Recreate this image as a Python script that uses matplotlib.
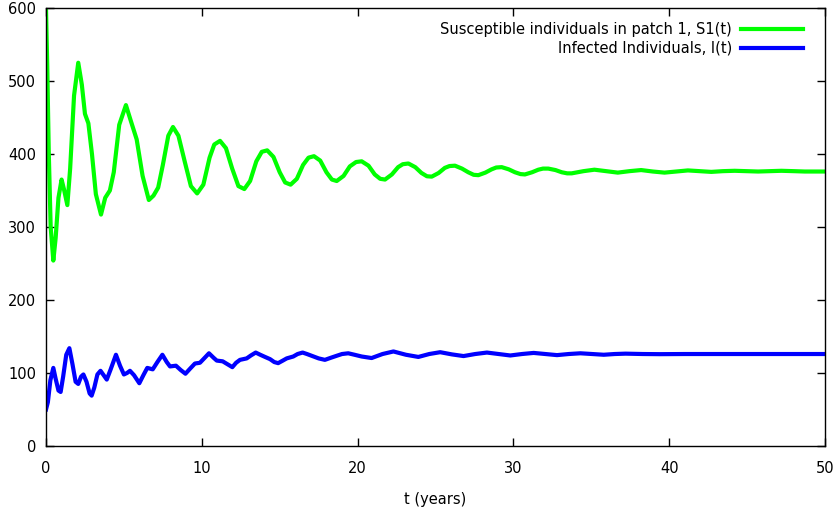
import numpy as np
import matplotlib
matplotlib.use("Agg")
import matplotlib.pyplot as plt

# Susceptible individuals in patch 1, S1(t)
s1_t = [0.0, 0.08, 0.18, 0.3, 0.47, 0.62, 0.8, 1.0, 1.15, 1.37, 1.55, 1.8, 2.07, 2.3, 2.5,
        2.72, 2.95, 3.2, 3.53, 3.8, 4.1, 4.35, 4.7, 5.13, 5.45, 5.82, 6.2, 6.6, 6.9, 7.2,
        7.5, 7.85, 8.15, 8.5, 8.9, 9.3, 9.7, 10.1, 10.5, 10.8, 11.17, 11.55, 11.95, 12.35,
        12.73, 13.1, 13.5, 13.85, 14.2, 14.6, 15.0, 15.35, 15.7, 16.1, 16.5, 16.85, 17.2,
        17.6, 18.0, 18.35, 18.66, 19.1, 19.5, 19.9, 20.26, 20.7, 21.1, 21.45, 21.76, 22.2,
        22.6, 22.9, 23.26, 23.7, 24.1, 24.45, 24.76, 25.2, 25.6, 25.9, 26.25, 26.7, 27.1,
        27.45, 27.75, 28.2, 28.6, 28.9, 29.25, 29.7, 30.1, 30.45, 30.74, 31.2, 31.6, 31.9,
        32.24, 32.7, 33.1, 33.45, 33.74, 34.5, 35.2, 35.95, 36.7, 37.45, 38.2, 38.95, 39.7,
        40.45, 41.2, 41.95, 42.7, 43.45, 44.2, 44.95, 45.7, 46.45, 47.2, 48.0, 48.7, 50.0]
s1_val = [600, 520, 400, 300, 254, 285, 340, 365, 352, 330, 380, 480, 525, 495, 455,
          442, 400, 345, 317, 340, 350, 375, 440, 467, 445, 420, 370, 337, 343, 354,
          385, 425, 437, 425, 390, 356, 346, 358, 395, 413, 418, 408, 380, 356,
          352, 363, 390, 403, 405, 396, 375, 361, 358, 366, 385, 395, 397,
          391, 375, 365, 363, 370, 383, 389, 390, 384, 372, 366, 365, 372,
          382, 386, 387, 382, 374, 369.5, 369, 374, 381, 383.5, 384, 380, 375,
          371.5, 371, 374.5, 379, 381.5, 382, 379, 375, 372.5, 372, 375, 378.5, 380,
          380, 378, 375, 373.5, 373.5, 376.5, 378.5, 376.5, 374.5, 376.5, 378, 376, 374.5,
          376, 377.5, 376.5, 375.5, 376.5, 377, 376.5, 376, 376.5, 377, 376.5, 376, 376]

# Infected individuals, I(t)
inf_t = [0.0, 0.12, 0.28, 0.47, 0.62, 0.8, 0.94, 1.1, 1.3, 1.5, 1.7, 1.9, 2.07, 2.25, 2.4,
         2.6, 2.8, 2.93, 3.1, 3.3, 3.5, 3.7, 3.9, 4.15, 4.49, 4.75, 5.0, 5.2, 5.39, 5.65,
         5.99, 6.25, 6.5, 6.85, 7.15, 7.47, 7.75, 7.96, 8.34, 8.65, 8.95, 9.25, 9.56, 9.88,
         10.15, 10.46, 10.75, 10.96, 11.34, 11.65, 11.96, 12.2, 12.45, 12.88, 13.15, 13.46,
         13.75, 14.06, 14.38, 14.65, 14.9, 15.2, 15.45, 15.87, 16.15, 16.47, 16.75, 17.05,
         17.5, 17.9, 18.3, 18.66, 19.0, 19.4, 19.8, 20.26, 20.9, 21.6, 22.3, 23.1, 23.9,
         24.6, 25.3, 26.05, 26.8, 27.55, 28.3, 29.05, 29.8, 30.55, 31.3, 32.05, 32.8, 33.55,
         34.3, 35.05, 35.8, 36.5, 37.2, 38.3, 39.4, 41.0, 43.0, 45.0, 47.0, 50.0]
inf_val = [50, 60, 90, 107, 92, 76, 74, 95, 125, 134, 112, 88, 85, 95, 98,
           88, 72, 69, 80, 98, 103, 97, 91, 105, 125, 110, 98, 100, 103, 97,
           86, 97, 107, 105, 115, 125, 115, 109, 110, 104, 99, 106, 113, 114,
           120, 127, 121, 117, 116, 112, 108, 114, 118, 120, 124, 128,
           125, 122, 119, 115, 113.5, 117, 120, 122.6, 126, 128, 126, 123.6,
           120, 118, 121, 123.6, 126, 127, 125, 122.6, 120.5, 126, 129.5, 125, 122,
           126, 128.5, 125.5, 123.2, 126, 128, 126, 124, 126, 127.5, 126, 124.5, 126,
           127, 126, 125, 126, 126.5, 126, 125.8, 126, 126, 126, 126, 126]

x_ticks = [0, 10, 20, 30, 40, 50]
y_ticks = [0, 100, 200, 300, 400, 500, 600]

plt.rcParams['font.family'] = ['DejaVu Sans']

# Create Figure
figure_1 = plt.figure(figsize=(8.35, 5.18), dpi=100)
axis_1 = figure_1.add_axes([46 / 835, 72 / 518, 779 / 835, 438 / 518])

# Plot Data
axis_1.plot(s1_t, s1_val, color="#00ff00", lw=3, label="Susceptible individuals in patch 1, S1(t)")
axis_1.plot(inf_t, inf_val, color="#0000ff", lw=3, label="Infected Individuals, I(t)")

axis_1.set_xlim(0, 50)
axis_1.set_ylim(0, 600)
axis_1.set_xticks(x_ticks)
axis_1.set_yticks(y_ticks)
axis_1.tick_params(direction="in", top=True, right=True, length=6, width=1,
                   labelsize=10.5, colors="black")
axis_1.tick_params(axis="x", pad=11)
axis_1.tick_params(axis="y", pad=7)
for spine in axis_1.spines.values():
    spine.set_linewidth(1)

# Set Labels
axis_1.set_xlabel("t (years)", fontsize=10.5, labelpad=11)

axis_1.legend(loc="upper right", bbox_to_anchor=(1 - 12 / 779, 1 - 4 / 438), frameon=False,
              markerfirst=False, fontsize=10.5, handlelength=4.25, handletextpad=0.6,
              labelspacing=0.25, borderaxespad=0.3, alignment="right")

plt.savefig("out.png", dpi=100)
